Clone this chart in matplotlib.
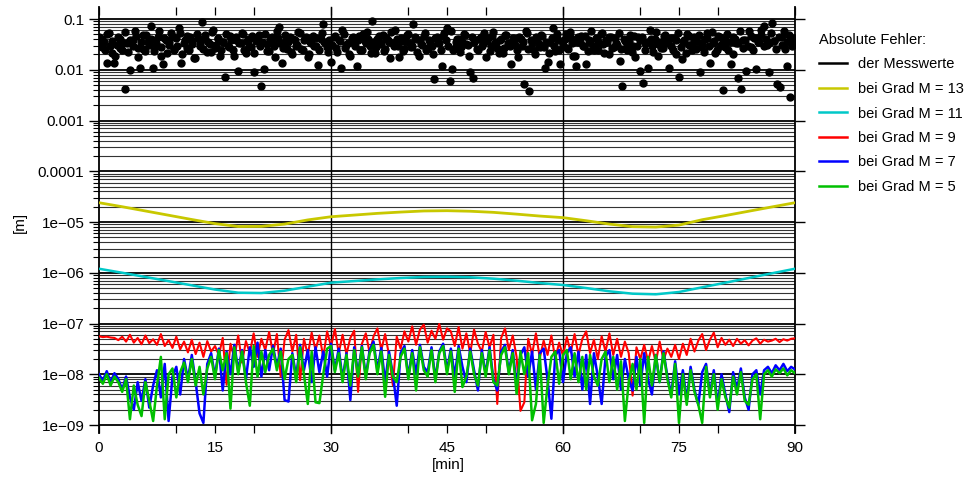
import numpy as np
import matplotlib.pyplot as plt
from matplotlib.ticker import FixedLocator, NullFormatter
from matplotlib.lines import Line2D

plt.rcParams['font.family'] = ['Liberation Sans', 'DejaVu Sans']

# absolute error of the measured values [m], one value every 20 s
messwerte = [
    0.045, 0.028, 0.036, 0.0136, 0.052, 0.021, 0.0136, 0.031, 0.041, 0.025,
    0.0042, 0.033, 0.0099, 0.039, 0.058, 0.027, 0.0108, 0.048, 0.023, 0.035,
    0.073, 0.0108, 0.029, 0.044, 0.019, 0.013, 0.038, 0.031, 0.054, 0.026,
    0.042, 0.066, 0.0136, 0.034, 0.047, 0.024, 0.037, 0.017, 0.050, 0.029,
    0.087, 0.040, 0.022, 0.032, 0.056, 0.027, 0.043, 0.019, 0.036, 0.0072,
    0.030, 0.046, 0.025, 0.039, 0.0095, 0.034, 0.051, 0.021, 0.041, 0.028,
    0.009, 0.037, 0.049, 0.0048, 0.0103, 0.032, 0.023, 0.044, 0.030, 0.057,
    0.070, 0.0136, 0.035, 0.026, 0.045, 0.020, 0.038, 0.031, 0.053, 0.024,
    0.042, 0.018, 0.036, 0.047, 0.029, 0.0124, 0.040, 0.080, 0.033, 0.022,
    0.0142, 0.044, 0.027, 0.038, 0.0108, 0.050, 0.031, 0.020, 0.042, 0.035,
    0.0119, 0.046, 0.025, 0.037, 0.055, 0.030, 0.091, 0.021, 0.041, 0.033,
    0.048, 0.026, 0.039, 0.017, 0.034, 0.060, 0.029, 0.043, 0.023, 0.036,
    0.051, 0.028, 0.080, 0.040, 0.019, 0.032, 0.047, 0.025, 0.038, 0.030,
    0.0066, 0.044, 0.034, 0.0119, 0.052, 0.066, 0.006, 0.0103, 0.027, 0.041,
    0.022, 0.036, 0.049, 0.031, 0.009, 0.0069, 0.039, 0.024, 0.045, 0.033,
    0.018, 0.042, 0.029, 0.056, 0.035, 0.021, 0.040, 0.027, 0.048, 0.032,
    0.013, 0.037, 0.025, 0.044, 0.030, 0.0052, 0.053, 0.0038, 0.034, 0.020,
    0.041, 0.028, 0.046, 0.0108, 0.0142, 0.036, 0.066, 0.023, 0.039, 0.013,
    0.031, 0.050, 0.026, 0.043, 0.019, 0.0119, 0.035, 0.047, 0.029, 0.013,
    0.038, 0.058, 0.024, 0.040, 0.033, 0.052, 0.021, 0.036, 0.045, 0.027,
    0.042, 0.031, 0.0149, 0.0048, 0.037, 0.025, 0.049, 0.030, 0.018, 0.044,
    0.0095, 0.0055, 0.034, 0.0108, 0.040, 0.022, 0.055, 0.032, 0.027, 0.046,
    0.036, 0.0108, 0.029, 0.043, 0.020, 0.0072, 0.016, 0.039, 0.051, 0.031,
    0.024, 0.045, 0.035, 0.009, 0.028, 0.041, 0.053, 0.0136, 0.033, 0.021,
    0.047, 0.030, 0.004, 0.038, 0.025, 0.013, 0.044, 0.034, 0.0069, 0.0042,
    0.039, 0.0095, 0.057, 0.028, 0.042, 0.0103, 0.035, 0.048, 0.073, 0.031,
    0.009, 0.085, 0.037, 0.0052, 0.0046, 0.045, 0.026, 0.0119, 0.0029, 0.040,
    0.033,
]
# the samples in between (10 s later), all inside the dense band
messwerte_zw = [
    0.032, 0.041, 0.024, 0.050, 0.029, 0.037, 0.019, 0.044, 0.027, 0.034,
    0.055, 0.022, 0.038, 0.030, 0.046, 0.018, 0.035, 0.026, 0.049, 0.031,
    0.040, 0.023, 0.033, 0.058, 0.028, 0.043, 0.021, 0.036, 0.047, 0.025,
    0.030, 0.052, 0.020, 0.039, 0.027, 0.045, 0.032, 0.017, 0.042, 0.034,
    0.026, 0.048, 0.036, 0.022, 0.060, 0.031, 0.040, 0.024, 0.035, 0.050,
    0.028, 0.038, 0.019, 0.044, 0.033, 0.054, 0.025, 0.037, 0.030, 0.046,
    0.021, 0.041, 0.029, 0.035, 0.051, 0.023, 0.039, 0.032, 0.018, 0.043,
    0.034, 0.027, 0.049, 0.036, 0.022, 0.040, 0.030, 0.056, 0.026, 0.038,
    0.045, 0.020, 0.033, 0.029, 0.042, 0.024, 0.052, 0.035, 0.028, 0.039,
    0.031, 0.047, 0.022, 0.037, 0.060, 0.027, 0.034, 0.019, 0.044, 0.030,
    0.038, 0.025, 0.050, 0.033, 0.041, 0.021, 0.036, 0.028, 0.046, 0.032,
    0.023, 0.043, 0.035, 0.055, 0.029, 0.040, 0.018, 0.037, 0.026, 0.048,
    0.034, 0.030, 0.045, 0.022, 0.039, 0.031, 0.053, 0.027, 0.036, 0.020,
    0.042, 0.033, 0.025, 0.047, 0.038, 0.029, 0.058, 0.024, 0.035, 0.040,
    0.028, 0.050, 0.032, 0.019, 0.044, 0.036, 0.026, 0.041, 0.030, 0.054,
    0.037, 0.023, 0.046, 0.033, 0.027, 0.039, 0.021, 0.049, 0.034, 0.029,
    0.043, 0.031, 0.018, 0.040, 0.035, 0.057, 0.026, 0.038, 0.024, 0.045,
    0.032, 0.048, 0.028, 0.036, 0.021, 0.042, 0.030, 0.051, 0.025, 0.037,
    0.040, 0.027, 0.055, 0.033, 0.019, 0.044, 0.035, 0.029, 0.047, 0.023,
    0.036, 0.030, 0.042, 0.025, 0.050, 0.032, 0.039, 0.020, 0.045, 0.028,
    0.034, 0.053, 0.026, 0.041, 0.031, 0.037, 0.022, 0.047, 0.029, 0.038,
    0.044, 0.024, 0.035, 0.060, 0.030, 0.040, 0.019, 0.036, 0.027, 0.049,
    0.033, 0.042, 0.025, 0.038, 0.052, 0.028, 0.035, 0.021, 0.046, 0.031,
    0.039, 0.026, 0.048, 0.034, 0.022, 0.043, 0.030, 0.056, 0.037, 0.024,
    0.045, 0.032, 0.028, 0.050, 0.036, 0.020, 0.041, 0.033, 0.059, 0.027,
    0.038, 0.030, 0.047, 0.025, 0.042, 0.035, 0.062, 0.029, 0.040, 0.034,
    0.052, 0.037, 0.026, 0.044, 0.031, 0.058, 0.036, 0.048, 0.030, 0.042,
]

# smooth errors, one value every 3 min
grad13 = [2.40e-5, 2.0e-5, 1.65e-5, 1.36e-5, 1.12e-5, 9.3e-6, 8.15e-6, 8.2e-6,
          9.1e-6, 1.10e-5, 1.27e-5, 1.37e-5, 1.48e-5, 1.57e-5, 1.65e-5, 1.67e-5,
          1.63e-5, 1.55e-5, 1.43e-5, 1.31e-5, 1.22e-5, 1.06e-5, 9.1e-6, 8.1e-6,
          7.95e-6, 8.7e-6, 1.11e-5, 1.34e-5, 1.63e-5, 1.98e-5, 2.40e-5]
grad11 = [1.20e-6, 1.0e-6, 8.26e-7, 6.84e-7, 5.65e-7, 4.67e-7, 4.05e-7, 3.99e-7,
          4.43e-7, 5.32e-7, 6.37e-7, 6.87e-7, 7.4e-7, 7.88e-7, 8.26e-7, 8.35e-7,
          8.15e-7, 7.64e-7, 6.98e-7, 6.28e-7, 5.74e-7, 5.0e-7, 4.31e-7, 3.87e-7,
          3.76e-7, 4.18e-7, 5.17e-7, 6.37e-7, 7.88e-7, 9.75e-7, 1.20e-6]

# noisy errors in units of 1e-9 m, one value every 30 s
grad9 = [
    56, 54, 55, 53, 52,
    47, 55, 44, 60, 42, 52, 39, 58, 41, 49,
    38, 62, 36, 47, 33, 55, 31, 44,
    27, 48, 25, 42, 22, 45, 28, 36,
    24, 52, 6.2, 40, 21, 58, 17, 45, 26, 64, 22, 50, 30, 68, 25,
    62, 9, 48, 74, 28, 60, 7.6, 50, 24, 66, 30, 58, 22, 70, 35, 78, 26, 60,
    25, 52, 72, 4.5, 40, 64, 26, 56, 80, 30, 62, 24, 6.1, 55, 32, 70, 44, 88,
    38, 76, 95, 42, 72, 50, 98, 48, 80,
    70, 36, 85, 32, 64, 26, 76, 40, 28, 68, 34, 60, 2.6, 52, 80, 30, 58, 22,
    1.9, 2.8, 50, 25, 64, 21, 46, 24, 58, 20, 42, 23, 54, 27, 62, 24, 50, 70,
    26, 48, 20, 56, 28, 64, 24, 50, 22, 44,
    26, 3.8, 34, 20, 38, 18, 36, 17, 44, 19, 32, 22, 38, 20,
    40, 24, 50, 28, 46, 62, 30, 48, 66, 34, 52,
    38, 48, 36, 50, 40, 47, 37, 46, 51, 40, 48, 44, 46, 50, 43, 49, 46, 50, 51,
]
grad7 = [
    10, 7.5, 11.5, 7, 10.5, 8,
    5, 9, 3.5, 2, 7, 3, 8, 2.2, 6,
    12, 3.5, 16, 1.2, 9, 14, 4, 20,
    8, 24, 7, 1.7, 1.1, 16,
    26, 9, 32, 4.8, 28, 10, 38, 12, 30, 8, 34, 14, 42, 9, 30, 12, 36,
    14, 32, 3.1, 2.9, 26, 9, 38, 12, 30, 7, 34, 11, 28, 9, 40, 12, 32, 8,
    26, 3.1, 34, 10, 36, 9, 30, 44, 12, 33, 7, 28, 10, 2.4, 26, 36, 9, 30,
    10, 38, 14, 11, 34, 8, 28, 40, 12,
    32, 9, 36, 14, 7, 32, 12, 4.8, 30, 10, 34, 8, 4.8, 28, 38, 11, 30, 6,
    24, 34, 9, 28, 5, 26, 32, 8, 1.33, 24, 30, 7, 26, 34, 9, 28, 5, 24,
    2.6, 26, 9, 2.6, 22, 30, 8, 24, 5, 20,
    8, 4.8, 22, 6, 26, 8, 4, 24, 7, 28, 9, 4, 18,
    4, 12, 3, 14, 5, 2.5, 11, 16, 4, 12, 2.5, 10,
    4, 1.8, 11, 5, 13, 3.5, 2.0, 10, 12, 4,
    12, 14, 10.5, 15, 12, 16, 11.5, 14, 12.5,
]
grad5 = [
    8.5, 6.5, 10, 6, 9, 7,
    4.5, 8, 1.3, 6, 2.5, 1.5, 7, 3, 1.2,
    6, 22, 1.3, 10, 13, 3.5, 11, 17,
    7, 20, 6, 14, 4, 13,
    22, 8, 30, 12, 26, 2.1, 34, 10, 28, 7, 2.4, 36, 9, 28, 11, 24, 32,
    12, 28, 8, 20, 24, 7, 34, 10, 2.6, 28, 2.8, 2.7, 10, 32, 36, 11, 26, 7,
    24, 6, 30, 9, 34, 8, 26, 38, 10, 28, 3.6, 24, 9, 7, 22, 32, 8, 26,
    4.8, 34, 12, 9, 30, 7, 26, 36, 10,
    28, 4.5, 32, 5.6, 9, 28, 10, 6, 26, 9, 30, 7, 6, 24, 34, 10, 26, 4.1,
    28, 10, 26, 1.24, 2.6, 24, 1.1, 6, 22, 28, 6.5, 24, 30, 8, 26, 7, 22, 5,
    24, 9, 6, 20, 28, 7, 22, 5, 18, 1.2,
    7, 16, 5, 20, 1.1, 22, 6, 24, 7, 26, 8, 3.5, 16,
    1.1, 10, 2.5, 12, 4.5, 2.5, 1.1, 14, 3.5, 10, 2, 8,
    3.5, 2.2, 9, 4, 11, 3, 2.5, 8, 10, 1.3,
    10, 12, 9, 12.5, 10.5, 13, 9.5, 12, 10.5,
]

labels = ['der Messwerte', 'bei Grad M = 13', 'bei Grad M = 11',
          'bei Grad M = 9', 'bei Grad M = 7', 'bei Grad M = 5']
colors = ['black', '#c8c800', '#00c8c8', '#ff0000', '#0000ff', '#00c000']

fig = plt.figure(figsize=(9.77, 4.79), dpi=100)
ax = fig.add_axes([99 / 977, 1 - 433 / 479, 696 / 977, 426 / 479])

ax.set_yscale('log')
ax.set_xlim(0, 90)
ax.set_ylim(6.96e-10, 0.1724)

# grid: every log step between 1e-9 and 0.1, vertical lines every 30 min
for d in range(-9, -1):
    for k in range(1, 10):
        v = k * 10.0 ** d
        ax.axhline(v, color='black' if k == 1 else '#333333',
                   lw=1.3 if k == 1 else 0.8, zorder=0)
ax.axhline(0.1, color='black', lw=1.3, zorder=0)
for xv in [0, 30, 60, 90]:
    ax.axvline(xv, color='black', lw=1.3 if xv in (0, 90) else 1.0,
               zorder=0, clip_on=False)

n = len(messwerte_zw)
t_mess = np.linspace(0, 90, len(messwerte))
t_zw = np.linspace(45 / n / 3, 90 - 45 / n / 3, n)
ax.plot(t_zw, messwerte_zw, 'o', color='black', ms=5, zorder=3)
ax.plot(t_mess, messwerte, 'o', color='black', ms=5, zorder=3)
ax.plot(np.linspace(0, 90, len(grad13)), grad13, color=colors[1], lw=2, zorder=3)
ax.plot(np.linspace(0, 90, len(grad11)), grad11, color=colors[2], lw=1.8, zorder=3)
ax.plot(np.linspace(0, 90, len(grad9)), np.array(grad9) * 1e-9,
        color=colors[3], lw=1.5, zorder=3)
ax.plot(np.linspace(0, 90, len(grad7)), np.array(grad7) * 1e-9,
        color=colors[4], lw=1.8, zorder=4)
ax.plot(np.linspace(0, 90, len(grad5)), np.array(grad5) * 1e-9,
        color=colors[5], lw=1.8, zorder=5)

for s in ax.spines.values():
    s.set_visible(False)

# ticks
ax.set_xticks([0, 15, 30, 45, 60, 75, 90])
ax.set_xticklabels(['0', '15', '30', '45', '60', '75', '90'])
ax.xaxis.set_minor_locator(FixedLocator([10, 20, 40, 50, 70, 80]))
ax.tick_params(axis='x', which='both', direction='in', top=True, bottom=True,
               length=5.8, width=0.9, pad=6, labelsize=11)

decades = [10.0 ** d for d in range(-9, 0)]
ax.yaxis.set_major_locator(FixedLocator(decades))
ax.set_yticklabels(['1e\u221209', '1e\u221208', '1e\u221207', '1e\u221206',
                    '1e\u221205', '0.0001', '0.001', '0.01', '0.1'])
minors = [k * 10.0 ** d for d in range(-9, -1) for k in range(2, 10)]
ax.yaxis.set_minor_locator(FixedLocator(minors))
ax.yaxis.set_minor_formatter(NullFormatter())
ax.tick_params(axis='y', which='major', direction='out', left=True, right=True,
               length=7.5, width=1.0, pad=3, labelsize=11)
ax.tick_params(axis='y', which='minor', direction='out', left=True, right=False,
               length=4, width=0.8)

fig.text(20 / 977, 1 - 222 / 479, '[m]', rotation=90, ha='center', va='center',
         fontsize=11)
fig.text(448 / 977, 1 - 465 / 479, '[min]', ha='center', va='center', fontsize=11)

handles = [Line2D([], [], color=c, lw=1.8) for c in colors]
fig.legend(handles, labels, title='Absolute Fehler:', loc='upper left',
           bbox_to_anchor=(819 / 977, 1 - 33 / 479), frameon=False,
           alignment='left', fontsize=10.5, title_fontsize=10.5,
           handlelength=1.9, handletextpad=0.8, labelspacing=0.72,
           borderpad=0, borderaxespad=0)

fig.savefig('out.png', dpi=100)
